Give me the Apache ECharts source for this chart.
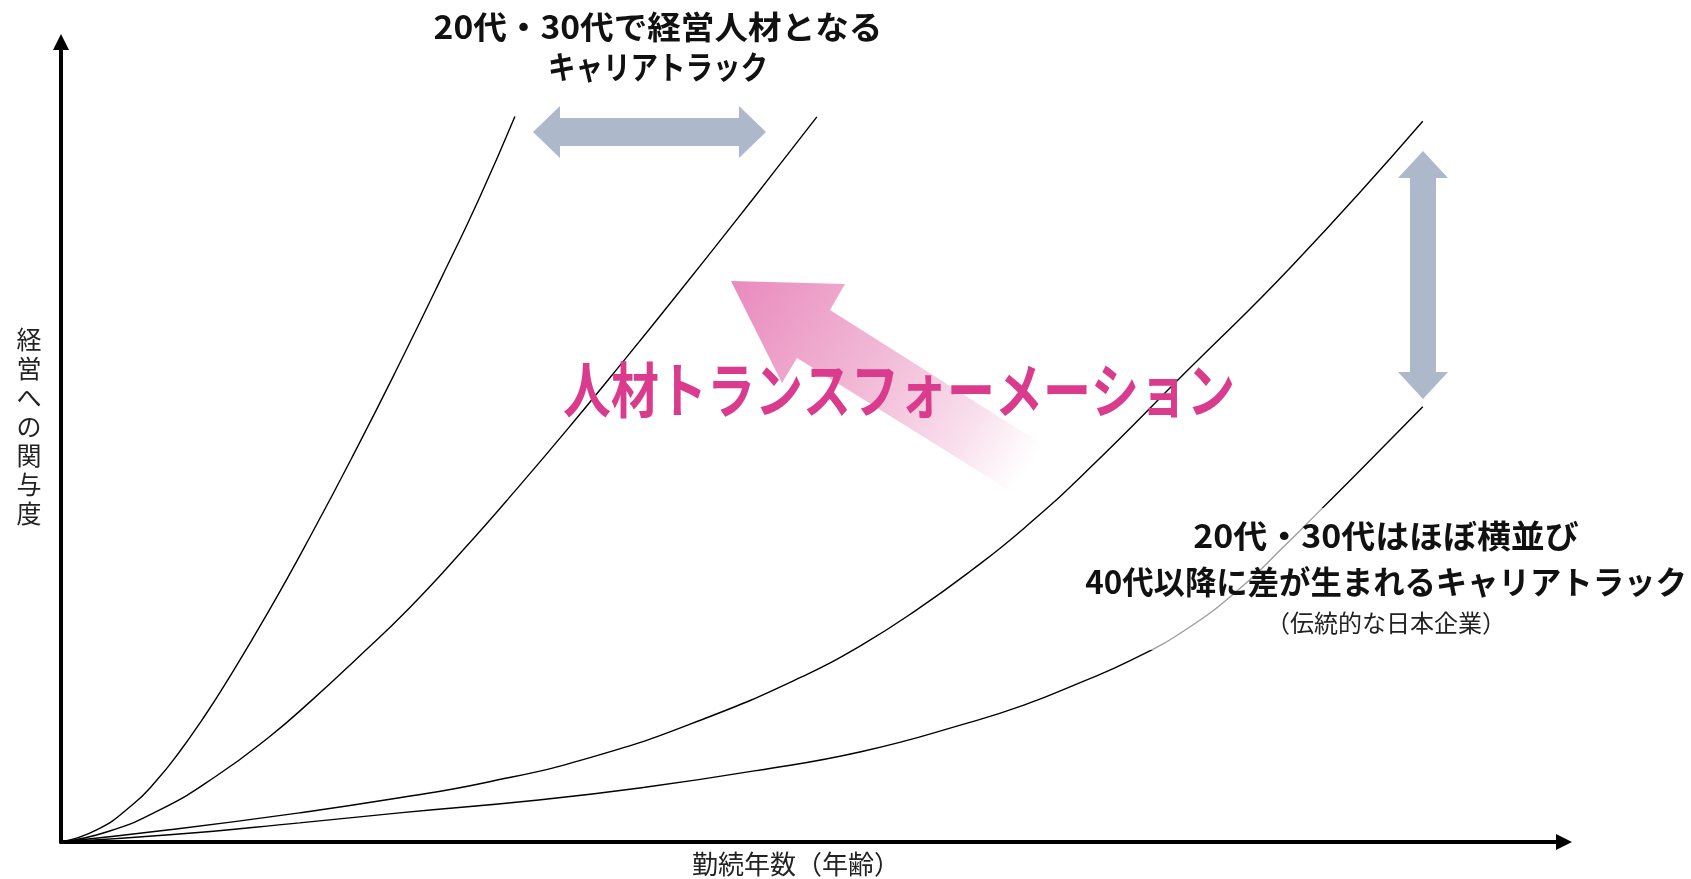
<!DOCTYPE html>
<html>
<head>
<meta charset="utf-8">
<script src="https://cdn.jsdelivr.net/npm/echarts@6/dist/echarts.min.js"></script>
<style>
html,body{margin:0;padding:0;background:#fff;}
#c{width:1691px;height:879px;}
</style>
</head>
<body>
<div id="c"></div>
<script>
// Conceptual curves: x = 勤続年数（年齢）, y = 経営への関与度 (0-100 scale)
const fastTrackA = [[0,0],[2.36,1.49],[4.71,4.57],[6.28,7.51],[7.85,11.17],[9.35,15.15],[10.92,19.69],[13.78,28.67],[16.63,38.27],[19.49,48.4],[22.34,58.93],[25.2,69.87],[27.69,79.67],[30.05,89.79]];
const fastTrackB = [[0,0],[3.07,1.27],[6.64,4.07],[10.21,8.07],[13.78,13],[16.63,17.59],[19.49,22.53],[23.05,28.93],[26.62,36.13],[30.19,43.73],[33.76,51.6],[37.33,59.73],[40.9,68],[44.47,76.4],[47.32,83.2],[50.04,89.73]];
const lateTrackA = [[0,0],[7.18,1.51],[15.79,3.61],[22.41,5.47],[28.05,7.33],[35.19,10.53],[42.33,15.07],[49.46,20.8],[53.03,24.4],[56.6,28.67],[60.17,33.47],[63.74,38.8],[67.95,46],[74.45,58.13],[81.58,71.47],[90.15,89.2]];
const lateTrackB = [[0,0],[7.18,0.89],[15.79,2.37],[22.41,3.61],[31.62,5.2],[38.76,6.8],[45.9,8.8],[53.03,11.2],[60.17,14.8],[63.74,16.93],[67.31,19.6],[70.88,22.53],[74.45,26.27],[78.02,31.33],[80.87,36.4],[83.37,41.07],[86.01,46],[90.15,53.87]];
const seriesNames = ['経営人材トラックA','経営人材トラックB','伝統的トラックA','伝統的トラックB'];
const xAxisTitle = '勤続年数（年齢）';
const yAxisTitle = '経営への関与度';
const topLabel = ['20代・30代で経営人材となる','キャリアトラック'];
const rightLabel = ['20代・30代はほぼ横並び','40代以降に差が生まれるキャリアトラック','（伝統的な日本企業）'];
const centerLabel = '人材トランスフォーメーション';

const FONT = '"Noto Sans CJK JP", "Noto Sans CJK SC", sans-serif';
const chart = echarts.init(document.getElementById('c'), null, {renderer:'canvas'});

function lineSeries(name, data){
  return {
    name, type:'line', data, smooth:0.5,
    showSymbol:false, symbol:'none', silent:true,
    lineStyle:{color:'#000', width:1.4}, z:5
  };
}

const steel = '#adb9cb';
const pinkGrad = new echarts.graphic.LinearGradient(731,281,1027,468,[
  {offset:0,color:'#e98abd'},
  {offset:0.45,color:'#f1b7d5'},
  {offset:0.8,color:'#f9e0ed'},
  {offset:1,color:'#ffffff'}
], true);

const option = {
  backgroundColor:'#fff',
  animation:false,
  grid:{left:61, right:127, top:42, bottom:37},
  xAxis:{
    type:'value', min:0, max:99.5,
    axisLine:{show:true, onZero:false, symbol:['none','triangle'], symbolSize:[16,16], lineStyle:{color:'#000', width:4}},
    axisTick:{show:false}, axisLabel:{show:false}, splitLine:{show:false}
  },
  yAxis:{
    type:'value', min:0, max:99,
    axisLine:{show:true, onZero:false, symbol:['none','triangle'], symbolSize:[16,16], lineStyle:{color:'#000', width:4}},
    axisTick:{show:false}, axisLabel:{show:false}, splitLine:{show:false}
  },
  series:[
    lineSeries(seriesNames[0], fastTrackA),
    lineSeries(seriesNames[1], fastTrackB),
    lineSeries(seriesNames[2], lateTrackA),
    lineSeries(seriesNames[3], lateTrackB)
  ],
  graphic:[
    {type:'polygon', z:1, silent:true,
     shape:{points:[[731,281],[845,284],[830,310],[1042,444],[1012,492],[797,358],[782,383]]},
     style:{fill:pinkGrad}},
    {type:'polygon', z:1, silent:true,
     shape:{points:[[533,132],[560,106],[560,118],[739,118],[739,106],[766,132],[739,158],[739,146],[560,146],[560,158]]},
     style:{fill:steel}},
    {type:'polygon', z:1, silent:true,
     shape:{points:[[1423,151],[1448,178],[1436,178],[1436,372],[1448,372],[1423,399],[1398,372],[1410,372],[1410,178],[1398,178]]},
     style:{fill:steel}},
    {type:'rect', z:50, silent:true,
     shape:{x:1085, y:508, width:606, height:142},
     style:{fill:'rgba(255,255,255,0.62)'}},
    {type:'text', z:60, x:658, y:27, scaleX:1.05, silent:true,
     style:{text:topLabel[0], font:'bold 32px '+FONT, fill:'#111', align:'center', verticalAlign:'middle'}},
    {type:'text', z:60, x:658, y:67, scaleX:0.86, silent:true,
     style:{text:topLabel[1], font:'bold 32px '+FONT, fill:'#111', align:'center', verticalAlign:'middle'}},
    {type:'text', z:60, x:1386, y:536, scaleX:1.06, silent:true,
     style:{text:rightLabel[0], font:'bold 32px '+FONT, fill:'#111', align:'center', verticalAlign:'middle'}},
    {type:'text', z:60, x:1386, y:582, scaleX:0.98, silent:true,
     style:{text:rightLabel[1], font:'bold 32px '+FONT, fill:'#111', align:'center', verticalAlign:'middle'}},
    {type:'text', z:60, x:1386, y:623, silent:true,
     style:{text:rightLabel[2], font:'24px '+FONT, fill:'#222', align:'center', verticalAlign:'middle'}},
    {type:'text', z:60, x:899, y:390, scaleX:0.8, silent:true,
     style:{text:centerLabel, font:'bold 60px '+FONT, fill:'#db3b8d', align:'center', verticalAlign:'middle'}},
    {type:'text', z:60, x:796, y:864, silent:true,
     style:{text:xAxisTitle, font:'26px '+FONT, fill:'#222', align:'center', verticalAlign:'middle'}},
    {type:'text', z:60, x:29, y:426, silent:true,
     style:{text:yAxisTitle.split('').join('\n'), font:'25px '+FONT, lineHeight:29, fill:'#222', align:'center', verticalAlign:'middle'}}
  ]
};
chart.setOption(option);
</script>
</body>
</html>
